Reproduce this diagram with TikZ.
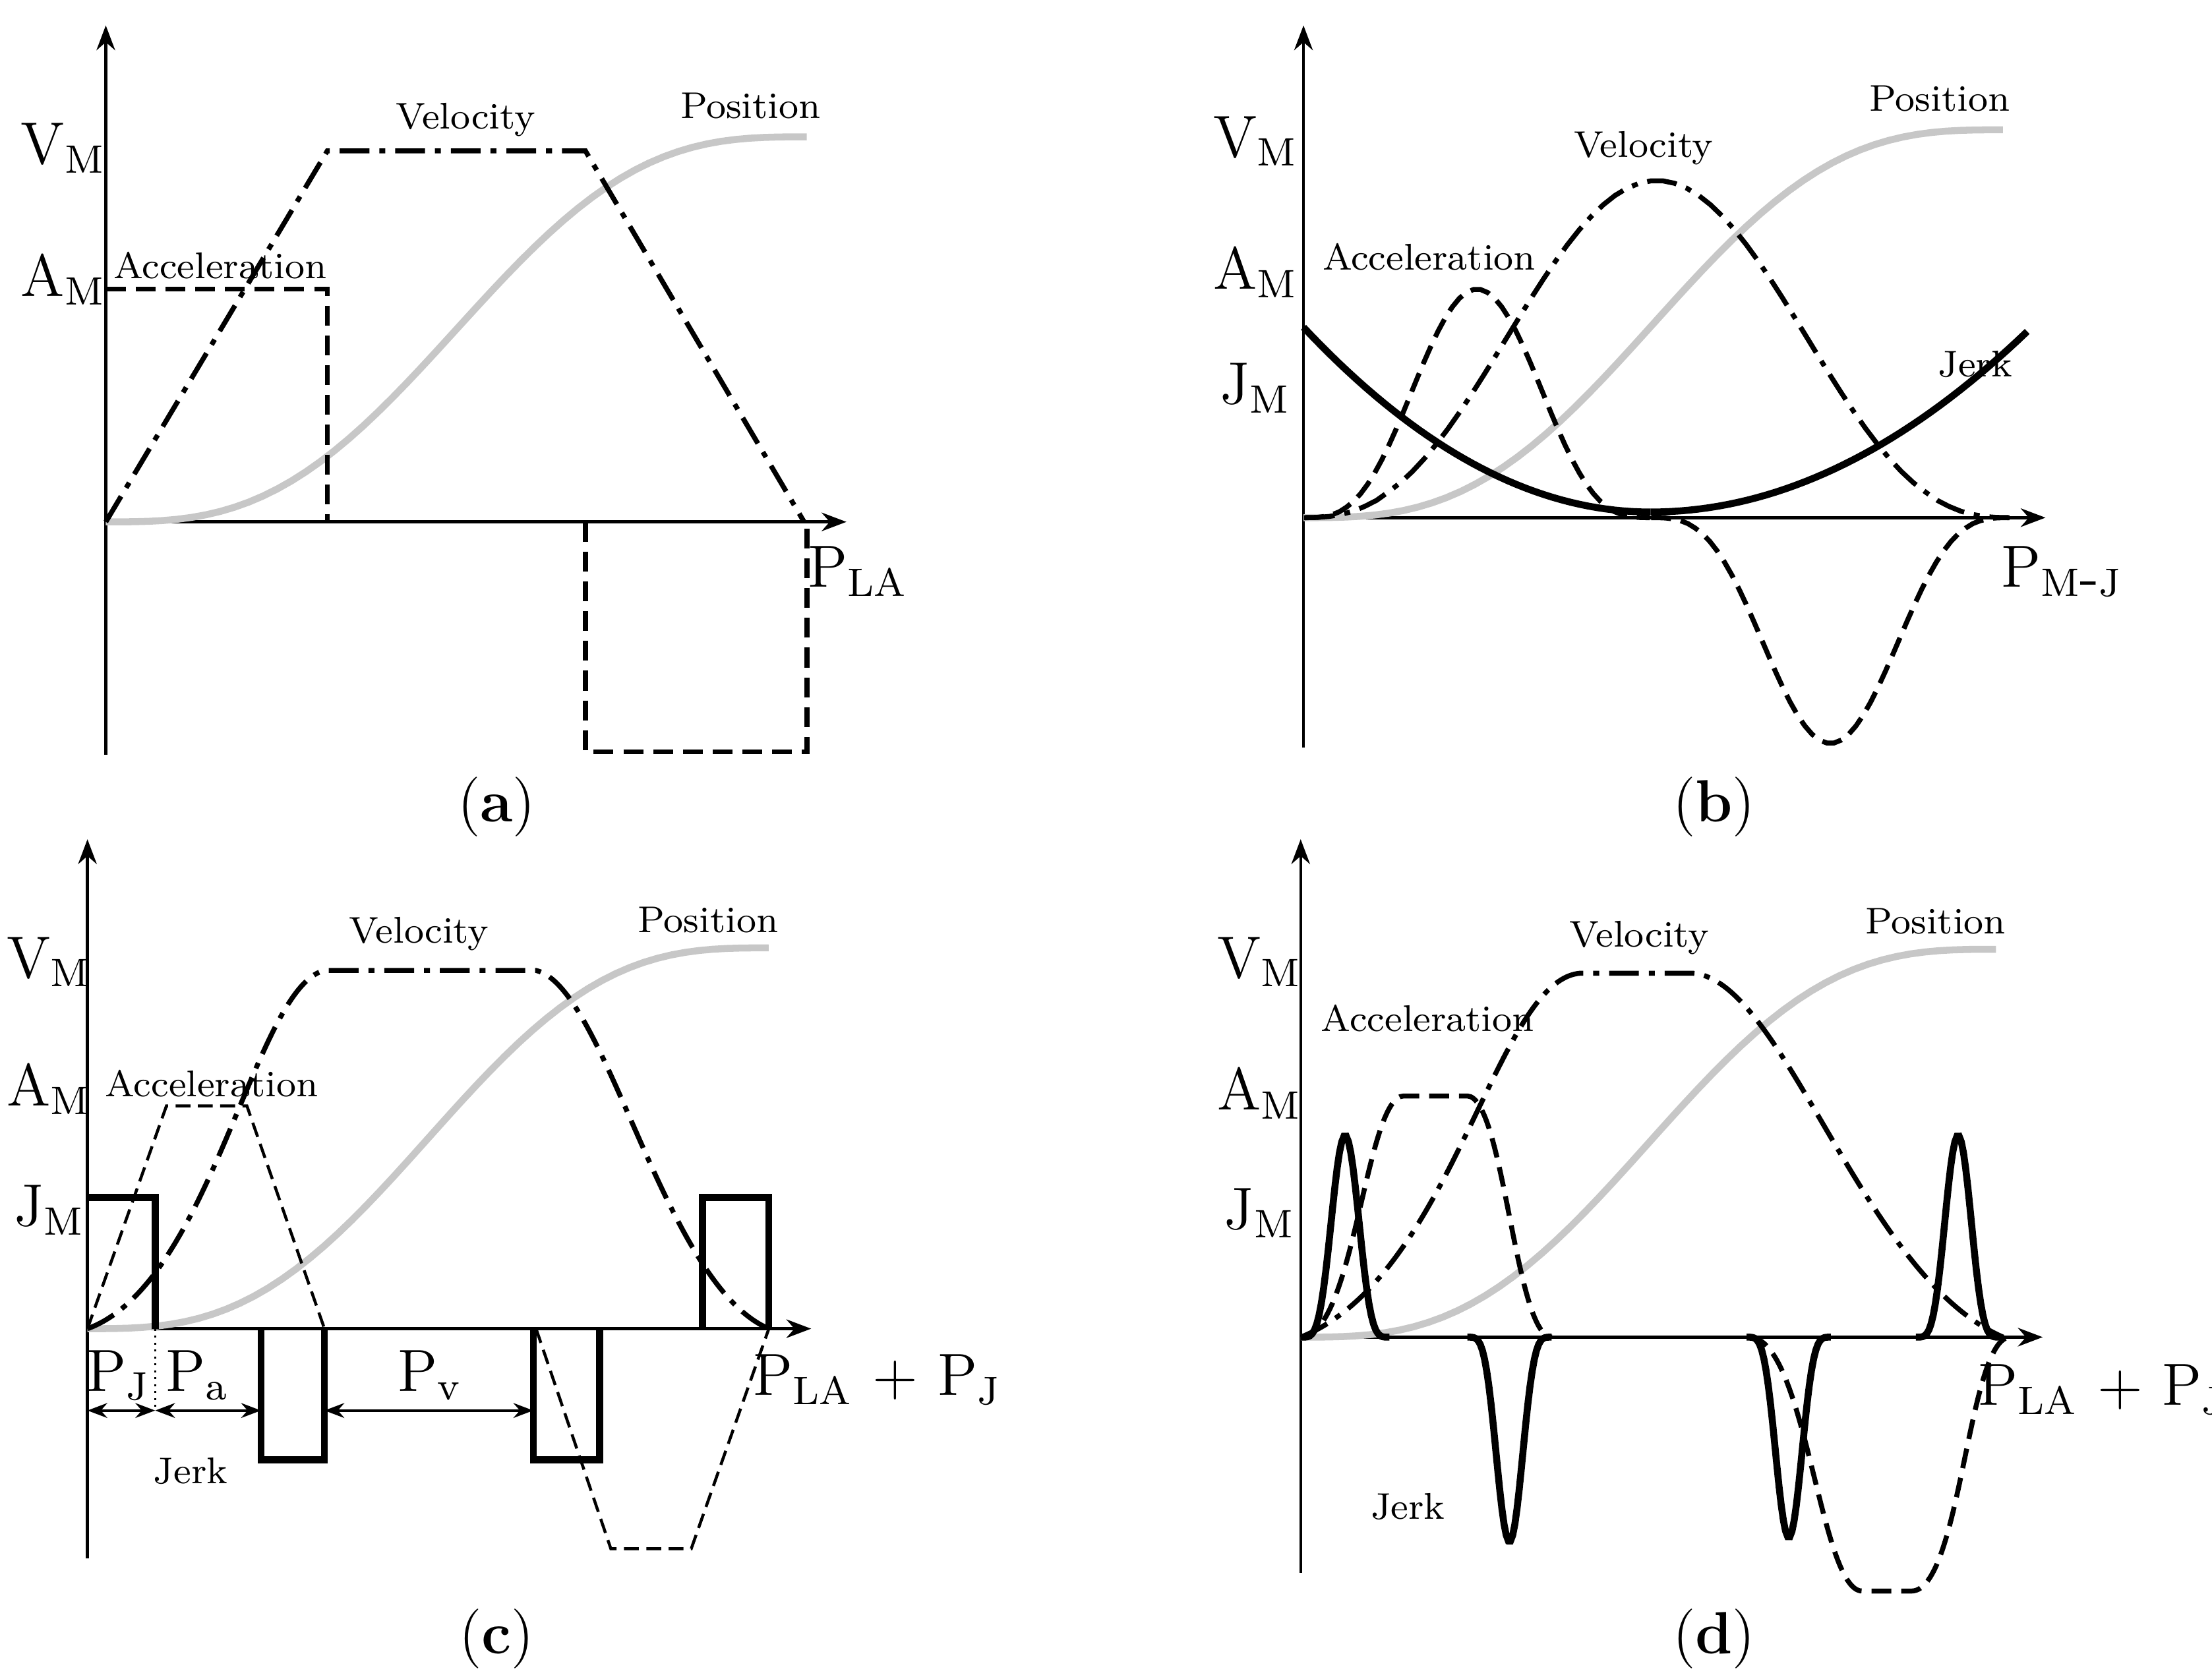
\documentclass[tikz,border=0pt]{standalone}
\usetikzlibrary{arrows.meta,positioning}
\tikzset{
  axis/.style={-{Stealth[length=5pt]}, line width=0.6pt},
  vel/.style={line width=1pt, dash pattern=on 6pt off 2pt on 1.2pt off 2pt},
  acc/.style={line width=1pt, dash pattern=on 4pt off 2pt},
  jerk/.style={line width=1.4pt},
  posn/.style={line width=1.4pt, black!22},
  lbl/.style={font=\fontsize{7.5}{9}\selectfont},
  big/.style={font=\fontsize{12}{14}\selectfont},
  capt/.style={font=\fontsize{12}{14}\selectfont}
}
\begin{document}
\begin{tikzpicture}[x=0.01cm, y=-0.01cm]
\useasboundingbox (0,0) rectangle (1568,1190);

% ---------- (a)
\coordinate (a0) at (75,370); \coordinate (ay) at (75,18);
\coordinate (ab) at (75,535); \coordinate (ax) at (600,370);
\draw[line width=0.6pt] (ab) -- (a0);
\draw[axis] (a0) -- (ay);
\draw[axis] (a0) -- (ax);
\draw[posn] plot[domain=0:1, samples=50] ({75+497*\x}, {370-273*(\x-sin(360*\x)/(2*pi))});
\draw[vel] (75,370) -- (232,107) -- (415,107) -- (570,370);
\draw[acc] (75,205) -- (232,205) -- (232,370);
\draw[acc] (415,370) -- (415,533) -- (572,533) -- (572,370);
\node[big] (avm) at (45,105) {V$_\mathrm{M}$};
\node[big] (aam) at (45,198) {A$_\mathrm{M}$};
\node[lbl] (avel) at (330,85) {Velocity};
\node[lbl] (apos) at (532,75) {Position};
\node[lbl] (aacc) at (156,188) {Acceleration};
\node[big] (apla) at (608,405) {P$_\mathrm{LA}$};
\node[capt] (acap) at (352,572) {(\textbf{a})};

% ---------- (b)
\coordinate (b0) at (924,367); \coordinate (by) at (924,18);
\coordinate (bb) at (924,530); \coordinate (bx) at (1450,367);
\draw[line width=0.6pt] (bb) -- (b0);
\draw[axis] (b0) -- (by);
\draw[axis] (b0) -- (bx);
\draw[posn] plot[domain=0:1, samples=50] ({924+496*\x}, {367-275*(\x-sin(360*\x)/(2*pi))});
\draw[vel] plot[domain=0.002:0.998, samples=60] ({924+501*\x}, {367-239*((1-cos(360*\x))/2)^1.3});
\draw[acc] plot[domain=0.002:0.998, samples=50] ({924+246*\x}, {367-162*((1-cos(360*\x))/2)^1.6});
\draw[acc] plot[domain=0.002:0.998, samples=50] ({1170+255*\x}, {367+160*((1-cos(360*\x))/2)^1.6});
\draw[jerk] plot[domain=924:1170, samples=40] (\x, {363-131*((\x-1170)/246)*((\x-1170)/246)});
\draw[jerk] plot[domain=1170:1437, samples=40] (\x, {363-128*((\x-1170)/267)*((\x-1170)/267)});
\node[big] (bvm) at (890,100) {V$_\mathrm{M}$};
\node[big] (bam) at (890,193) {A$_\mathrm{M}$};
\node[big] (bjm) at (890,275) {J$_\mathrm{M}$};
\node[lbl] (bvel) at (1165,105) {Velocity};
\node[lbl] (bpos) at (1375,70) {Position};
\node[lbl] (bacc) at (1013,182) {Acceleration};
\node[lbl] (bjrk) at (1400,258) {Jerk};
\node[big] (bpmj) at (1462,405) {P$_\mathrm{M\mbox{-}J}$};
\node[capt] (bcap) at (1215,572) {(\textbf{b})};

% ---------- (c)
\coordinate (c0) at (62,942); \coordinate (cy) at (62,595);
\coordinate (cb) at (62,1105); \coordinate (cx) at (575,942);
\draw[line width=0.6pt] (cb) -- (c0);
\draw[axis] (c0) -- (cy);
\draw[axis] (c0) -- (cx);
\draw[posn] plot[domain=0:1, samples=50] ({62+483*\x}, {942-270*(\x-sin(360*\x)/(2*pi))});
\draw[vel] (62,942) .. controls (150,910) and (180,700) .. (230,688) -- (380,688) .. controls (430,700) and (470,910) .. (545,942);
\draw[acc, line width=0.6pt, dash pattern=on 3pt off 1.5pt] (62,942) -- (118,784) -- (175,784) -- (230,942);
\draw[acc, line width=0.6pt, dash pattern=on 3pt off 1.5pt] (380,942) -- (433,1098) -- (490,1098) -- (545,942);
\draw[jerk] (62,849) -- (110,849) -- (110,942);
\draw[jerk] (185,942) -- (185,1035) -- (230,1035) -- (230,942);
\draw[jerk] (378,942) -- (378,1035) -- (425,1035) -- (425,942);
\draw[jerk] (498,942) -- (498,849) -- (545,849) -- (545,942);
\coordinate (cp1) at (62,1000); \coordinate (cp2) at (110,1000);
\coordinate (cp3) at (185,1000); \coordinate (cp4) at (230,1000);
\coordinate (cp5) at (378,1000);
\draw[densely dotted, line width=0.4pt] (110,942) -- (cp2);
\draw[{Stealth[length=4pt]}-{Stealth[length=4pt]}, line width=0.5pt] (cp1) -- (cp2);
\draw[{Stealth[length=4pt]}-{Stealth[length=4pt]}, line width=0.5pt] (cp2) -- (cp3);
\draw[{Stealth[length=4pt]}-{Stealth[length=4pt]}, line width=0.5pt] (cp4) -- (cp5);
\node[big] (cvm) at (35,682) {V$_\mathrm{M}$};
\node[big] (cam) at (35,772) {A$_\mathrm{M}$};
\node[big] (cjm) at (35,858) {J$_\mathrm{M}$};
\node[lbl] (cvel) at (297,662) {Velocity};
\node[lbl] (cpos) at (502,652) {Position};
\node[lbl] (cacc) at (150,768) {Acceleration};
\node[lbl] (cjrk) at (135,1043) {Jerk};
\node[big] (cpj) at (84,975) {P$_\mathrm{J}$};
\node[big] (cpa) at (140,975) {P$_\mathrm{a}$};
\node[big] (cpv) at (305,975) {P$_\mathrm{v}$};
\node[big] (cpla) at (622,978) {P$_\mathrm{LA}$ + P$_\mathrm{J}$};
\node[capt] (ccap) at (352,1162) {(\textbf{c})};

% ---------- (d)
\coordinate (d0) at (922,948); \coordinate (dy) at (922,595);
\coordinate (db) at (922,1115); \coordinate (dx) at (1448,948);
\draw[line width=0.6pt] (db) -- (d0);
\draw[axis] (d0) -- (dy);
\draw[axis] (d0) -- (dx);
\draw[posn] plot[domain=0:1, samples=50] ({922+493*\x}, {948-275*(\x-sin(360*\x)/(2*pi))});
\draw[vel] (922,948) .. controls (1030,905) and (1060,695) .. (1120,690) -- (1200,690) .. controls (1265,695) and (1320,905) .. (1420,948);
\draw[acc] (922,948) .. controls (960,948) and (968,777) .. (995,777) -- (1040,777) .. controls (1066,777) and (1074,948) .. (1100,948);
\draw[acc] (1240,948) .. controls (1280,948) and (1290,1128) .. (1320,1128) -- (1355,1128) .. controls (1390,1128) and (1395,948) .. (1425,948);
\foreach \s/\w/\h in {922/63/-143, 1040/60/145, 1238/60/142, 1358/60/-143}
  \draw[jerk] plot[domain=0.002:0.998, samples=40] ({\s+\w*\x}, {948+\h*((1-cos(360*\x))/2)^2.2});
\node[big] (dvm) at (893,682) {V$_\mathrm{M}$};
\node[big] (dam) at (893,775) {A$_\mathrm{M}$};
\node[big] (djm) at (893,860) {J$_\mathrm{M}$};
\node[lbl] (dvel) at (1162,665) {Velocity};
\node[lbl] (dpos) at (1372,653) {Position};
\node[lbl] (dacc) at (1012,722) {Acceleration};
\node[lbl] (djrk) at (998,1068) {Jerk};
\node[big] (dpla) at (1490,985) {P$_\mathrm{LA}$ + P$_\mathrm{J}$};
\node[capt] (dcap) at (1215,1162) {(\textbf{d})};
\end{tikzpicture}
\end{document}
